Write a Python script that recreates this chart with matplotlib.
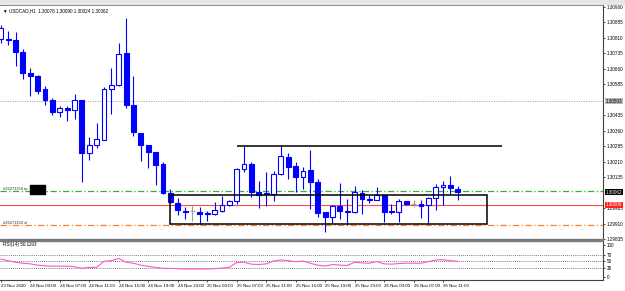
import matplotlib
matplotlib.use("Agg")
import matplotlib.pyplot as plt
from matplotlib.patches import Rectangle

plt.rcParams["font.family"] = ["Liberation Sans", "DejaVu Sans"]

# ---------------- data ----------------
symbol_title = "USDCAD,H1  1.30078 1.30090 1.30024 1.30062"
opens = [1.30806, 1.30806, 1.30801, 1.30743, 1.30642, 1.30627, 1.30560, 1.30507, 1.30451, 1.30468,
         1.30459, 1.30507, 1.30252, 1.30290, 1.30316, 1.30560, 1.30581, 1.30738, 1.30483, 1.30348,
         1.30290, 1.30256, 1.30198, 1.30057, 1.30010, 1.29973, 1.29970, 1.29965, 1.29962, 1.29955,
         1.29973, 1.30001, 1.30019, 1.30172, 1.30198, 1.30064, 1.30052, 1.30054, 1.30150, 1.30235,
         1.30189, 1.30134, 1.30170, 1.30113, 1.29964, 1.29941, 1.29997, 1.29973, 1.29968, 1.30059,
         1.30030, 1.30026, 1.30046, 1.29973, 1.29965, 1.30017, 1.30004, 1.30006, 1.30001, 1.30033,
         1.30086, 1.30097, 1.30078]
highs = [1.30873, 1.30844, 1.30840, 1.30758, 1.30666, 1.30632, 1.30579, 1.30517, 1.30478, 1.30478,
         1.30536, 1.30509, 1.30329, 1.30396, 1.30570, 1.30666, 1.30787, 1.30907, 1.30627, 1.30350,
         1.30292, 1.30259, 1.30208, 1.30078, 1.30033, 1.29990, 1.30001, 1.29990, 1.29973, 1.30014,
         1.30044, 1.30025, 1.30179, 1.30288, 1.30208, 1.30117, 1.30160, 1.30166, 1.30290, 1.30254,
         1.30207, 1.30183, 1.30267, 1.30126, 1.29967, 1.30001, 1.30107, 1.30030, 1.30094, 1.30075,
         1.30046, 1.30086, 1.30049, 1.30006, 1.30030, 1.30021, 1.30025, 1.30025, 1.30038, 1.30102,
         1.30118, 1.30139, 1.30090]
lows = [1.30787, 1.30777, 1.30676, 1.30613, 1.30526, 1.30536, 1.30483, 1.30435, 1.30425, 1.30406,
        1.30415, 1.30112, 1.30218, 1.30278, 1.30314, 1.30439, 1.30579, 1.30468, 1.30333, 1.30213,
        1.30179, 1.30097, 1.30054, 1.30010, 1.29949, 1.29930, 1.29920, 1.29909, 1.29922, 1.29949,
        1.29967, 1.29997, 1.30006, 1.30160, 1.30038, 1.29985, 1.29994, 1.30021, 1.30143, 1.30124,
        1.30065, 1.30078, 1.29981, 1.29941, 1.29869, 1.29914, 1.29933, 1.29904, 1.29962, 1.29954,
        1.30010, 1.30025, 1.29917, 1.29957, 1.29917, 1.30001, 1.29990, 1.29938, 1.29909, 1.29978,
        1.30001, 1.30054, 1.30024]
closes = [1.30859, 1.30799, 1.30743, 1.30642, 1.30623, 1.30555, 1.30507, 1.30449, 1.30468, 1.30461,
          1.30507, 1.30252, 1.30290, 1.30319, 1.30563, 1.30584, 1.30732, 1.30483, 1.30353, 1.30290,
          1.30256, 1.30194, 1.30059, 1.30014, 1.29978, 1.29968, 1.29970, 1.29957, 1.29954, 1.29974,
          1.30001, 1.30021, 1.30174, 1.30198, 1.30064, 1.30049, 1.30059, 1.30150, 1.30236, 1.30186,
          1.30134, 1.30166, 1.30113, 1.29962, 1.29944, 1.29994, 1.29973, 1.29968, 1.30065, 1.30030,
          1.30025, 1.30049, 1.29968, 1.29968, 1.30021, 1.30006, 1.30004, 1.29997, 1.30035, 1.30086,
          1.30097, 1.30081, 1.30062]
rsi = [57, 52, 47, 44, 42, 38, 36, 35, 35, 35, 33, 28, 31, 31, 50, 52, 59, 47, 44, 38,
       34, 31, 28, 28, 27, 26, 26, 26, 26, 27, 29, 31, 46, 47, 41, 40, 42, 51, 54, 52,
       49, 51, 44, 38, 35, 40, 38, 37, 47, 45, 44, 49, 42, 41, 43, 44, 44, 44, 49, 54,
       55, 52, 50.12]
rsi_title = "RSI(14) 50.1193"
time_labels = ["23 Nov 2020", "24 Nov 03:00", "24 Nov 07:00", "24 Nov 11:00", "24 Nov 15:00",
               "24 Nov 19:00", "24 Nov 23:00", "25 Nov 03:00", "25 Nov 07:00", "25 Nov 11:00",
               "25 Nov 15:00", "25 Nov 19:00", "25 Nov 23:00", "26 Nov 03:00", "26 Nov 07:00",
               "26 Nov 11:00"]
price_ticks = [1.30960, 1.30885, 1.30810, 1.30735, 1.30660, 1.30585, 1.30435, 1.30360,
               1.30285, 1.30210, 1.30135, 1.29985, 1.29910, 1.29835]
rsi_levels = [70, 50, 30]
rsi_ticks = [100, 70, 50, 30, 0]
gray_level = 1.30503
tp_level = 1.30070
red_level = 1.30000
sl_level = 1.29904
bid = 1.30062
order_name = "#26271150"
resistance = 1.30285
resistance_bars = [32, 68]
box_bars = [23, 66]
box_prices = [1.29906, 1.30046]

# ---------------- layout ----------------
W, H = 625, 291
fig = plt.figure(figsize=(W / 100, H / 100), dpi=100)
fig.patch.set_facecolor("white")

def fy(y):
    return 1 - y / H

def fx(x):
    return x / W

FS = 3.3

ax = fig.add_axes([0, fy(239), fx(603), (239 - 5) / H])
rax = fig.add_axes([0, fy(280), fx(603), (280 - 241) / H])
xlim = (-0.11, 81.7)
ax.set_xlim(*xlim)
ax.set_ylim(1.298419, 1.309696)
rax.set_xlim(*xlim)
rax.set_ylim(-8.4, 113.4)

blue = "#0000ff"
n = len(opens)
idx = list(range(n))
width = 0.66
doji_bars = [i for i in idx if opens[i] == closes[i]]

for i in idx:
    col = "#a0a0a0" if i in doji_bars else blue
    ax.vlines(i, lows[i], highs[i], color=col, lw=0.8, zorder=2)
    o, c = opens[i], closes[i]
    bull = c > o
    face = "white" if bull else col
    ax.bar(i, abs(c - o), bottom=min(o, c), width=width, color=face,
           edgecolor=col, linewidth=0.8, zorder=3)

# horizontal levels
ax.axhline(gray_level, color="#9a9a9a", lw=0.7, ls=(0, (1, 1.5)), zorder=1)
ax.axhline(tp_level, color="#2fb52f", lw=0.9, ls=(0, (5, 2, 1, 2)), zorder=1)
ax.axhline(red_level, color="#ff4a4a", lw=0.8, zorder=1)
ax.axhline(sl_level, color="#ff7f2a", lw=0.9, ls=(0, (5, 2, 1, 2)), zorder=1)
ax.hlines(resistance, resistance_bars[0], resistance_bars[1], color="black", lw=1.1, zorder=4)
ax.add_patch(Rectangle((box_bars[0], box_prices[0]), box_bars[1] - box_bars[0],
                       box_prices[1] - box_prices[0], fill=False, edgecolor="black",
                       lw=1.1, zorder=4))

# right axis
for a in (ax, rax):
    a.yaxis.tick_right()
    a.tick_params(axis="y", labelsize=FS, length=1.5, width=0.5, pad=1.2, colors="black")
    a.spines["left"].set_visible(False)
    a.spines["right"].set_color("#404040")
    a.spines["right"].set_linewidth(0.8)

ax.set_yticks(price_ticks)
ax.set_yticklabels([f"{p:.5f}" for p in price_ticks])
ax.set_xticks([])
ax.spines["top"].set_color("#606060")
ax.spines["top"].set_linewidth(1.2)
ax.spines["bottom"].set_visible(False)

ytr = ax.get_yaxis_transform()
ax.text(1.005, gray_level, f"{gray_level:.5f}", transform=ytr, fontsize=FS, va="center",
        ha="left", color="black", clip_on=False,
        bbox=dict(boxstyle="square,pad=0.15", fc="#b8b8b8", ec="none"))
ax.text(1.005, bid, f"{bid:.5f}", transform=ytr, fontsize=FS, va="center", ha="left",
        color="white", clip_on=False,
        bbox=dict(boxstyle="square,pad=0.15", fc="black", ec="none"))
ax.text(1.005, red_level, f"{red_level:.5f}", transform=ytr, fontsize=FS, va="center",
        ha="left", color="white", clip_on=False,
        bbox=dict(boxstyle="square,pad=0.15", fc="#ff2020", ec="none"))

# left order labels
ax.text(0.005, tp_level, order_name + " tp", transform=ytr, fontsize=3.0, va="bottom",
        ha="left", color="#303030")
ax.text(0.005, sl_level, order_name + " sl", transform=ytr, fontsize=3.0, va="bottom",
        ha="left", color="#303030")
fig.patches.append(Rectangle((fx(30), fy(194)), fx(45) - fx(30), (194 - 185) / H,
                             transform=fig.transFigure, color="black", zorder=5))

# title
ax.text(0.005, 0.985, "\u25bc " + symbol_title, transform=ax.transAxes, fontsize=FS,
        va="top", ha="left", color="black")

# RSI panel
rax.plot(idx, rsi, color="#ff55c8", lw=0.8, zorder=3)
for lv in rsi_levels:
    rax.axhline(lv, color="#505050", lw=0.6, ls=(0, (1, 1.5)), zorder=1)
rax.set_yticks(rsi_ticks)
rax.set_yticklabels([str(t) for t in rsi_ticks])
rax.text(0.005, 0.97, rsi_title, transform=rax.transAxes, fontsize=FS, va="top",
         ha="left", color="black")
rax.set_xticks(list(range(0, 4 * len(time_labels), 4)))
rax.set_xticklabels(time_labels)
rax.tick_params(axis="x", labelsize=3.2, length=1.5, width=0.5, pad=1.5)
for lbl in rax.get_xticklabels():
    lbl.set_ha("left")
rax.spines["top"].set_visible(False)
rax.spines["bottom"].set_color("#404040")
rax.spines["bottom"].set_linewidth(0.8)

# window chrome: toolbar strip and separator
fig.patches.append(Rectangle((0, fy(3.5)), 1, 3.5 / H, transform=fig.transFigure,
                             color="#e6e6e6", zorder=0))
fig.patches.append(Rectangle((0, fy(241)), fx(603), 2.2 / H, transform=fig.transFigure,
                             color="#7a7a7a", zorder=5))

fig.savefig("out.png", dpi=100)
